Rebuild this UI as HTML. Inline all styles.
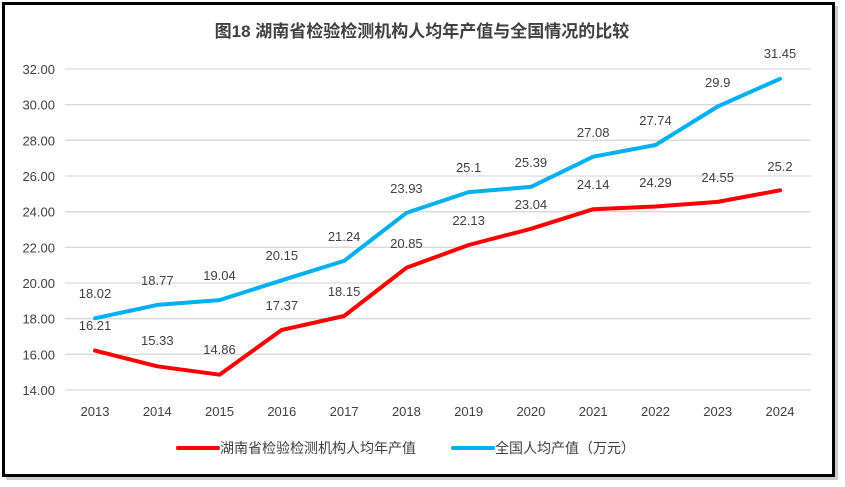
<!DOCTYPE html>
<html><head><meta charset="utf-8"><style>
html,body{margin:0;padding:0;background:#fff;width:845px;height:487px;overflow:hidden}
svg text{font-family:"Liberation Sans","Noto Sans CJK SC",sans-serif;fill:#404040}
</style></head><body>
<svg width="845" height="487" xmlns="http://www.w3.org/2000/svg">
<rect x="6" y="6" width="832" height="474" fill="#999" opacity="0.5"/>
<rect x="3.5" y="3.5" width="830" height="472" fill="#fff" stroke="#000" stroke-width="3"/>
<text x="422" y="37" text-anchor="middle" font-size="17" font-weight="bold" style="font-family:'Liberation Sans','Noto Sans CJK SC',sans-serif">图18  湖南省检验检测机构人均年产值与全国情况的比较</text>
<g stroke="#d9d9d9" stroke-width="1.3">
<line x1="65" x2="811" y1="69" y2="69"/><line x1="65" x2="811" y1="104.7" y2="104.7"/>
<line x1="65" x2="811" y1="140.3" y2="140.3"/><line x1="65" x2="811" y1="176" y2="176"/>
<line x1="65" x2="811" y1="211.7" y2="211.7"/><line x1="65" x2="811" y1="247.3" y2="247.3"/>
<line x1="65" x2="811" y1="283" y2="283"/><line x1="65" x2="811" y1="318.7" y2="318.7"/>
<line x1="65" x2="811" y1="354.3" y2="354.3"/><line x1="65" x2="811" y1="390" y2="390"/>
</g>
<g font-size="13" text-anchor="end">
<text x="55" y="74">32.00</text><text x="55" y="109.7">30.00</text><text x="55" y="145.3">28.00</text>
<text x="55" y="181">26.00</text><text x="55" y="216.7">24.00</text><text x="55" y="252.3">22.00</text>
<text x="55" y="288">20.00</text><text x="55" y="323.7">18.00</text><text x="55" y="359.3">16.00</text>
<text x="55" y="395">14.00</text>
</g>
<g font-size="13" text-anchor="middle">
<text x="95" y="416">2013</text><text x="157.3" y="416">2014</text><text x="219.5" y="416">2015</text>
<text x="281.8" y="416">2016</text><text x="344.1" y="416">2017</text><text x="406.4" y="416">2018</text>
<text x="468.6" y="416">2019</text><text x="530.9" y="416">2020</text><text x="593.2" y="416">2021</text>
<text x="655.5" y="416">2022</text><text x="717.7" y="416">2023</text><text x="780" y="416">2024</text>
</g>
<polyline fill="none" stroke="#00b0f0" stroke-width="4" stroke-linejoin="round" stroke-linecap="round"
points="95,318.3 157.3,304.9 219.5,300.1 281.8,280.3 344.1,260.9 406.4,212.9 468.6,192.1 530.9,186.9 593.2,156.7 655.5,145 717.7,106.5 780,78.8"/>
<polyline fill="none" stroke="#ff0000" stroke-width="4" stroke-linejoin="round" stroke-linecap="round"
points="95,350.6 157.3,366.3 219.5,374.7 281.8,329.9 344.1,316 406.4,267.8 468.6,245 530.9,228.8 593.2,209.2 655.5,206.5 717.7,201.9 780,190.3"/>
<g font-size="13" text-anchor="middle">
<text x="95" y="298">18.02</text><text x="157.3" y="285">18.77</text><text x="219.5" y="280">19.04</text>
<text x="281.8" y="260">20.15</text><text x="344.1" y="241">21.24</text><text x="406.4" y="193">23.93</text>
<text x="468.6" y="172">25.1</text><text x="530.9" y="167">25.39</text><text x="593.2" y="137">27.08</text>
<text x="655.5" y="125">27.74</text><text x="717.7" y="87">29.9</text><text x="780" y="58">31.45</text>
<text x="95" y="330">16.21</text><text x="157.3" y="345">15.33</text><text x="219.5" y="354">14.86</text>
<text x="281.8" y="310">17.37</text><text x="344.1" y="296">18.15</text><text x="406.4" y="248">20.85</text>
<text x="468.6" y="225">22.13</text><text x="530.9" y="209">23.04</text><text x="593.2" y="189">24.14</text>
<text x="655.5" y="187">24.29</text><text x="717.7" y="182">24.55</text><text x="780" y="171">25.2</text>
</g>
<line x1="178" x2="218" y1="448" y2="448" stroke="#ff0000" stroke-width="4" stroke-linecap="round"/>
<text x="220" y="453" font-size="14">湖南省检验检测机构人均年产值</text>
<line x1="453" x2="493" y1="448" y2="448" stroke="#00b0f0" stroke-width="4" stroke-linecap="round"/>
<text x="495" y="453" font-size="14">全国人均产值（万元）</text>
</svg>
</body></html>
